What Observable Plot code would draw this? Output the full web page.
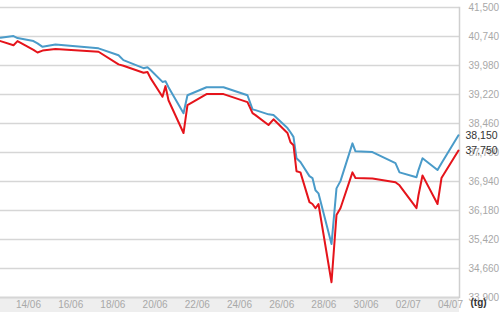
<!DOCTYPE html>
<html>
<head>
<meta charset="utf-8">
<script src="https://cdn.jsdelivr.net/npm/d3@7"></script>
<script src="https://cdn.jsdelivr.net/npm/@observablehq/plot@0.6"></script>
<style>
  html, body { margin: 0; padding: 0; background: #fff; }
  #chart { width: 500px; height: 312px; }
</style>
</head>
<body>
<div id="chart"></div>
<script>
// Time stamps (UTC) shared by both series
const times = [
  "2013-06-12T16:10","2013-06-13T07:00","2013-06-13T11:30","2013-06-14T05:40","2013-06-14T10:15",
  "2013-06-14T16:00","2013-06-15T06:40","2013-06-17T07:40","2013-06-18T06:25","2013-06-18T12:00",
  "2013-06-19T10:50","2013-06-19T15:20","2013-06-19T18:50","2013-06-20T08:25","2013-06-20T11:50",
  "2013-06-20T15:15","2013-06-21T08:20","2013-06-21T12:50","2013-06-22T10:30","2013-06-23T05:50",
  "2013-06-24T09:05","2013-06-24T14:50","2013-06-24T18:10","2013-06-25T09:00","2013-06-25T14:40",
  "2013-06-26T06:35","2013-06-26T10:00","2013-06-26T13:25","2013-06-26T16:50","2013-06-26T21:20",
  "2013-06-27T07:35","2013-06-27T11:00","2013-06-27T14:25","2013-06-27T17:50","2013-06-28T08:40",
  "2013-06-28T14:20","2013-06-28T18:50","2013-06-29T08:30","2013-06-29T11:55","2013-06-30T07:15",
  "2013-07-01T09:25","2013-07-01T14:00","2013-07-02T09:20","2013-07-02T11:35","2013-07-02T16:10",
  "2013-07-03T09:15","2013-07-03T13:45","2013-07-04T09:05"
];
// Blue series (upper line)
const blueValues = [
  40710,40750,40700,40620,40560,40470,40530,40430,40250,40120,
  39910,39935,39860,39550,39570,39410,38730,39200,39410,39410,
  39200,38830,38810,38700,38680,38340,38230,38110,37550,37450,
  37080,37030,36710,36630,35300,36760,36950,37940,37730,37710,
  37420,37180,37050,37240,37550,37240,37420,38150
];
// Red series (lower line)
const redValues = [
  40620,40510,40620,40390,40320,40370,40410,40340,40010,39975,
  39790,39810,39650,39160,39440,39070,38210,38940,39230,39230,
  39020,38730,38680,38420,38570,38210,37970,37890,37210,37180,
  36400,36350,36240,36350,34300,36060,36240,37180,37030,37020,
  36920,36840,36240,36580,37100,36350,37030,37750
];
const yTicks = [33900,34660,35420,36180,36940,37700,38460,39220,39980,40740,41500];
const xTickLabels = ["2013-06-14","2013-06-16","2013-06-18","2013-06-20","2013-06-22",
                     "2013-06-24","2013-06-26","2013-06-28","2013-06-30","2013-07-02","2013-07-04"];
const xDomain = ["2013-06-12T16:10","2013-07-04T10:15"];
const yDomain = [33900, 41500];
const axisTitle = "(tg)";

const parse = s => new Date(s + (s.length <= 10 ? "T00:00Z" : ":00Z"));
const blue = times.map((t, i) => ({t: parse(t), v: blueValues[i]}));
const red = times.map((t, i) => ({t: parse(t), v: redValues[i]}));
const lastBlue = blue[blue.length - 1];
const lastRed = red[red.length - 1];

const band = (index, scales, values, dims) => {
  const g = d3.create("svg:g");
  const x0 = dims.marginLeft, w = dims.width - dims.marginLeft - dims.marginRight;
  const y0 = dims.height - dims.marginBottom;
  g.append("rect").attr("x", x0).attr("y", y0).attr("width", w).attr("height", dims.marginBottom)
    .attr("fill", "#eeeeee");
  g.append("line").attr("x1", x0).attr("x2", x0 + w).attr("y1", y0 + 0.5).attr("y2", y0 + 0.5)
    .attr("stroke", "#c8c8c8").attr("stroke-width", 1.5);
  return g.node();
};

const chart = Plot.plot({
  width: 500,
  height: 312,
  marginLeft: 0,
  marginRight: 41,
  marginTop: 7,
  marginBottom: 15,
  style: {fontFamily: "'Liberation Sans', Arial, sans-serif", fontSize: "10px", color: "#a8a8a8", background: "transparent"},
  x: {type: "utc", domain: xDomain.map(parse), axis: null},
  y: {domain: yDomain, axis: null},
  marks: [
    band,
    Plot.ruleY(yTicks, {stroke: "#d6d6d6", strokeWidth: 1.5}),
    Plot.frame({anchor: "right", stroke: "#cfcfcf", strokeWidth: 1.5}),
    Plot.line(blue, {x: "t", y: "v", stroke: "#4a9bc9", strokeWidth: 2}),
    Plot.line(red, {x: "t", y: "v", stroke: "#e5141b", strokeWidth: 2}),
    Plot.axisX({ticks: xTickLabels.map(parse), tickFormat: d3.utcFormat("%d/%m"), tickSize: 0, tickPadding: 3, label: null, fill: "#a8a8a8", fontSize: 10}),
    Plot.axisY({anchor: "right", ticks: yTicks, tickFormat: d3.format(","), tickSize: 0, tickPadding: 9, label: null, fill: "#a8a8a8", fontSize: 10}),
    Plot.text([lastBlue, lastRed], {x: "t", y: "v", text: d => d3.format(",")(d.v), dx: 7, textAnchor: "start", fill: "#333", fontSize: 10.5}),
    Plot.text([axisTitle], {frameAnchor: "bottom-right", dx: 11, dy: 8, textAnchor: "start", fontWeight: "bold", fill: "#333", fontSize: 10})
  ]
});
document.getElementById("chart").appendChild(chart);
</script>
</body>
</html>
